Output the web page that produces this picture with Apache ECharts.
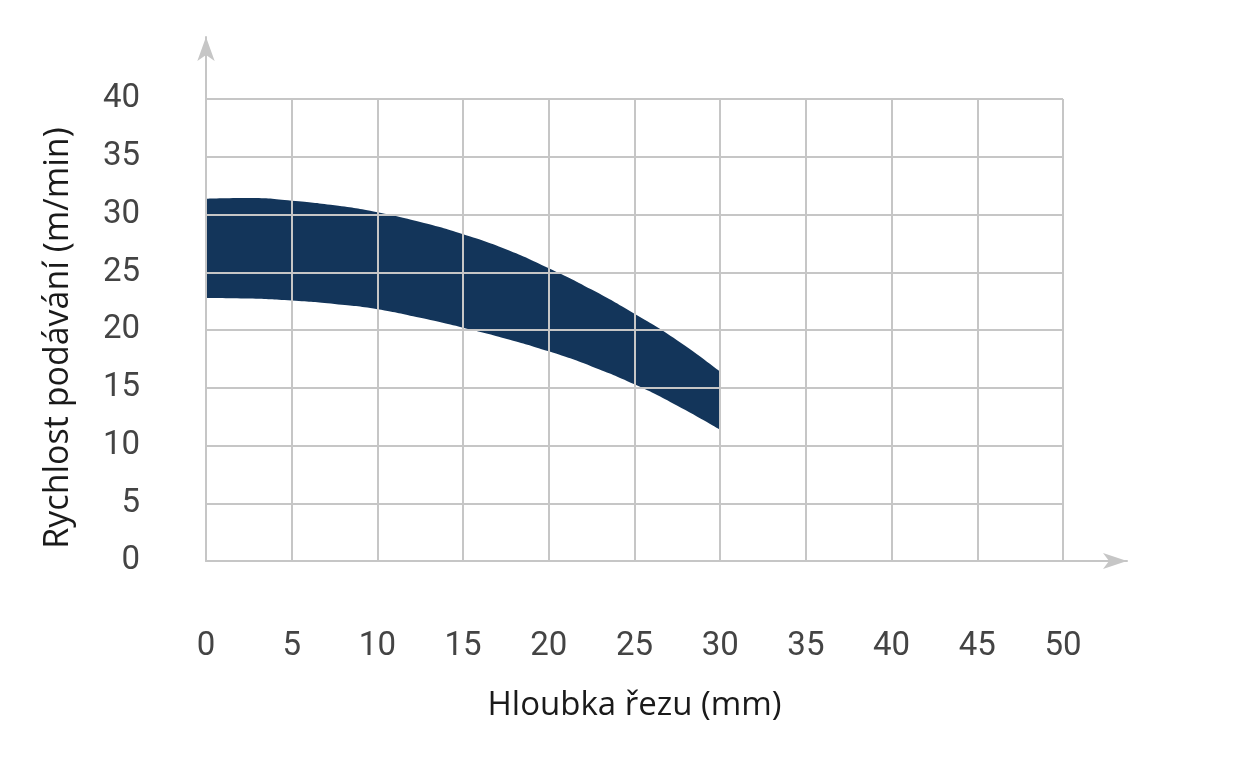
<!DOCTYPE html>
<html>
<head>
<meta charset="utf-8">
<script src="https://cdn.jsdelivr.net/npm/echarts@6/dist/echarts.min.js"></script>
<style>
html,body{margin:0;padding:0;background:#fff;}
#c{width:1233px;height:760px;}
</style>
</head>
<body>
<div id="c"></div>
<script>
const depth = [0, 2.5, 5, 7.5, 10, 12.5, 15, 17.5, 20, 22.5, 25, 27.5, 30];
const upperSpeed = [31.36, 31.42, 31.2, 30.8, 30.2, 29.35, 28.3, 27.0, 25.35, 23.5, 21.4, 19.1, 16.4];
const lowerSpeed = [22.78, 22.73, 22.55, 22.25, 21.8, 21.05, 20.2, 19.25, 18.15, 16.85, 15.3, 13.45, 11.37];
const xTicks = [0, 5, 10, 15, 20, 25, 30, 35, 40, 45, 50];
const yTicks = [0, 5, 10, 15, 20, 25, 30, 35, 40];
const xName = 'Hloubka řezu (mm)';
const yName = 'Rychlost podávání (m/min)';

const gridColor = '#c6c6c6';
const bandColor = '#13355a';
const labelFont = 'Roboto';

const chart = echarts.init(document.getElementById('c'), null, {renderer: 'canvas'});

const upperData = depth.map((x, i) => [x, upperSpeed[i]]);
const lowerData = depth.map((x, i) => [x, lowerSpeed[i]]);

chart.setOption({
  animation: false,
  backgroundColor: '#fff',
  grid: [
    {left: 206, right: 170, top: 99, bottom: 199},
    {left: 206, right: 106, top: 37, bottom: 199}
  ],
  xAxis: [
    {
      type: 'value', gridIndex: 0, min: xTicks[0], max: xTicks[xTicks.length - 1], interval: 5, z: 5,
      axisLine: {show: false},
      axisTick: {show: false},
      splitLine: {show: true, lineStyle: {color: gridColor, width: 2}},
      axisLabel: {color: '#444', fontFamily: labelFont, fontSize: 33, margin: 69},
      name: xName, nameLocation: 'middle', nameGap: 128,
      nameTextStyle: {color: '#1a1a1a', fontFamily: 'Open Sans', fontSize: 33}
    },
    {
      type: 'value', gridIndex: 1, min: 0, max: 1, z: 5,
      axisLine: {show: true, lineStyle: {color: gridColor, width: 2}, symbol: ['none', 'arrow'], symbolSize: [12, 24]},
      axisTick: {show: false}, axisLabel: {show: false}, splitLine: {show: false}
    }
  ],
  yAxis: [
    {
      type: 'value', gridIndex: 0, min: yTicks[0], max: yTicks[yTicks.length - 1], interval: 5, z: 5,
      axisLine: {show: false},
      axisTick: {show: false},
      splitLine: {show: true, lineStyle: {color: gridColor, width: 2}},
      axisLabel: {color: '#444', fontFamily: labelFont, fontSize: 33, margin: 66},
      name: yName, nameLocation: 'middle', nameGap: 131,
      nameTextStyle: {color: '#1a1a1a', fontFamily: 'Open Sans', fontSize: 34, padding: [0, 16, 0, 0]}
    },
    {
      type: 'value', gridIndex: 1, min: 0, max: 1, z: 5,
      axisLine: {show: true, lineStyle: {color: gridColor, width: 2}, symbol: ['none', 'arrow'], symbolSize: [13, 24]},
      axisTick: {show: false}, axisLabel: {show: false}, splitLine: {show: false}
    }
  ],
  series: [
    {
      type: 'line', xAxisIndex: 0, yAxisIndex: 0, data: upperData,
      smooth: 0.5, symbol: 'none', lineStyle: {width: 0, opacity: 0},
      areaStyle: {color: bandColor, opacity: 1, origin: 'start'}, z: 2, silent: true
    },
    {
      type: 'line', xAxisIndex: 0, yAxisIndex: 0, data: lowerData,
      smooth: 0.5, symbol: 'none', lineStyle: {width: 0, opacity: 0},
      areaStyle: {color: '#ffffff', opacity: 1, origin: 'start'}, z: 3, silent: true
    }
  ]
});
</script>
</body>
</html>
